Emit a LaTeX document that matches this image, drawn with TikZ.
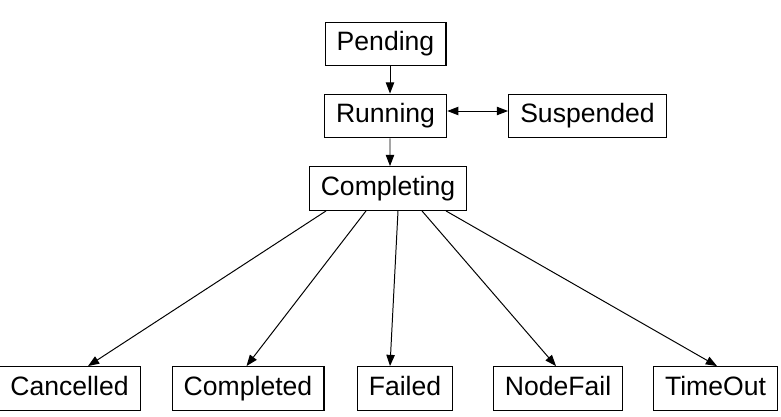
\documentclass[tikz,border=0pt]{standalone}
\usepackage{fontspec}
\setmainfont{Liberation Sans}
\usetikzlibrary{arrows.meta,calc}

\tikzset{
  statebox/.style={draw, line width=0.9pt, minimum height=1.09cm, inner xsep=0.29cm,
    text height=0.47cm, text depth=0.14cm,
    font=\fontsize{18.9}{22}\selectfont},
  statetip/.tip={Triangle[length=0.28cm,width=0.21cm]},
  trans/.style={line width=0.7pt, -{statetip}}
}

\begin{document}
\begin{tikzpicture}[x=0.025cm, y=-0.025cm]
            \useasboundingbox (0,0) rectangle (781,416);

            \node[statebox] (pend) at (385.5,44) {Pending};
            \node[statebox] (run) at (385.5,116) {Running};
            \node[statebox] (susp) at (587.5,116) {Suspended};
            \node[statebox] (compl) at (388,188.5) {Completing};

            \node[statebox] (canc) at (69.5,388.5) {Cancelled};
            \node[statebox] (done) at (248,388.5) {Completed};
            \node[statebox] (fail) at (405,388.5) {Failed};
            \node[statebox] (nfail) at (558,388.5) {NodeFail};
            \node[statebox] (tout) at (715.5,388.5) {TimeOut};

            \draw[trans] ($(pend.south)+(4.5,0)$) -- ($(run.north)+(4.5,0)$);
            \draw[trans, {statetip}-{statetip}] ($(run.east)+(0,-5)$) -- ($(susp.west)+(0,-5)$);
            \draw[trans] ($(run.south)+(4.5,0)$) -- ($(compl.north)+(2,0)$);

            \draw[trans] ($(compl.south)+(-62,0)$) -- ($(canc.north)+(18.5,0)$);
            \draw[trans] ($(compl.south)+(-22,0)$) -- ($(done.north)+(-1.5,0)$);
            \draw[trans] ($(compl.south)+(10,0)$) -- ($(fail.north)+(-15,0)$);
            \draw[trans] ($(compl.south)+(34,0)$) -- ($(nfail.north)+(-2,0)$);
            \draw[trans] ($(compl.south)+(58,0)$) -- ($(tout.north)+(1.5,0)$);
        \end{tikzpicture}
\end{document}
